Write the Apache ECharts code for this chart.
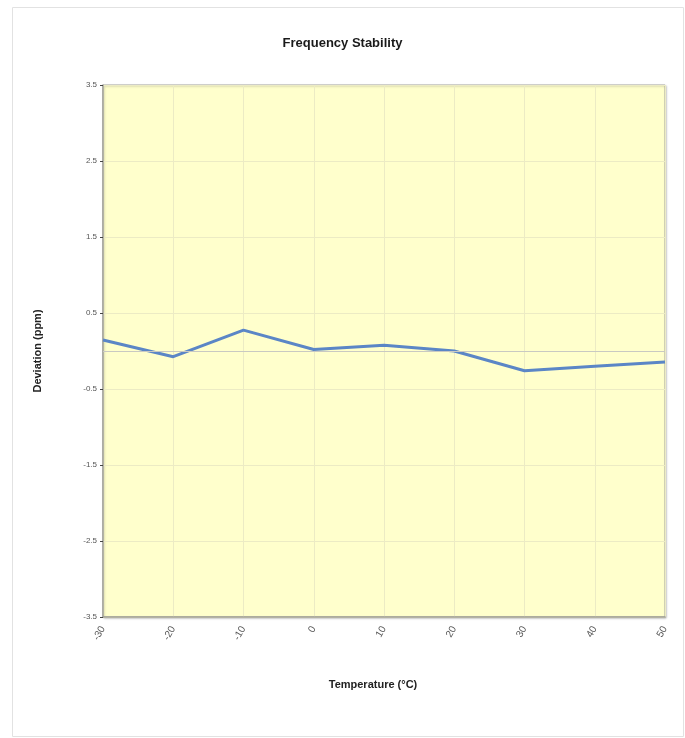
<!DOCTYPE html>
<html>
<head>
<meta charset="utf-8">
<script src="https://cdn.jsdelivr.net/npm/echarts@6/dist/echarts.min.js"></script>
<style>
html,body{margin:0;padding:0;background:#fff;}
#chart{width:685px;height:738px;}
</style>
</head>
<body>
<div id="chart"></div>
<script>
// Data
var temperatures = [-30, -20, -10, 0, 10, 20, 30, 40, 50];
var deviation = [0.145, -0.075, 0.275, 0.02, 0.075, 0.0, -0.26, -0.2, -0.145];
var yTicks = [-3.5, -2.5, -1.5, -0.5, 0.5, 1.5, 2.5, 3.5];
var titleText = 'Frequency Stability';
var xName = 'Temperature (°C)';
var yName = 'Deviation (ppm)';

var chart = echarts.init(document.getElementById('chart'), null, {renderer: 'canvas'});
var seriesData = temperatures.map(function (t, i) { return [t, deviation[i]]; });

chart.setOption({
  backgroundColor: '#ffffff',
  animation: false,
  title: {
    text: titleText,
    left: 'center',
    top: 32,
    textStyle: {fontFamily: 'Liberation Sans, Arial, sans-serif', fontSize: 13, fontWeight: 'bold', color: '#1a1a1a'}
  },
  graphic: [{
    type: 'rect',
    shape: {x: 12.5, y: 7.5, width: 671, height: 729},
    style: {fill: 'none', stroke: '#e2e2e2', lineWidth: 1},
    silent: true,
    z: -1
  }],
  grid: {
    left: 103, right: 20, top: 85, bottom: 121,
    show: true,
    backgroundColor: '#ffffcc',
    borderColor: '#a8a8a0',
    borderWidth: 1,
    shadowColor: 'rgba(0,0,0,0.25)',
    shadowBlur: 2,
    shadowOffsetX: 1,
    shadowOffsetY: 1
  },
  xAxis: {
    type: 'value',
    min: -30, max: 50, interval: 10,
    name: xName,
    nameLocation: 'middle',
    nameGap: 62,
    nameTextStyle: {fontFamily: 'Liberation Sans, Arial, sans-serif', fontSize: 11, fontWeight: 'bold', color: '#222', padding: [0, 22, 0, 0]},
    axisLine: {show: true, onZero: false, lineStyle: {color: '#a0a098', width: 1.5}},
    axisTick: {show: false},
    axisLabel: {rotate: 60, fontSize: 10, color: '#555', margin: 10, fontFamily: 'Liberation Sans, Arial, sans-serif'},
    splitLine: {show: true, lineStyle: {color: '#ecebc4', width: 1}}
  },
  yAxis: {
    type: 'value',
    min: yTicks[0], max: yTicks[yTicks.length - 1], interval: 1,
    name: yName,
    nameLocation: 'middle',
    nameGap: 60,
    nameTextStyle: {fontFamily: 'Liberation Sans, Arial, sans-serif', fontSize: 11, fontWeight: 'bold', color: '#222'},
    axisLine: {show: true, onZero: false, lineStyle: {color: '#a0a098', width: 1.5}},
    axisTick: {show: true, length: 3, lineStyle: {color: '#444'}},
    axisLabel: {fontSize: 8, color: '#555', margin: 6, fontFamily: 'Liberation Sans, Arial, sans-serif',
      formatter: function (v) { return (Math.round(v * 10) / 10).toFixed(1); }},
    splitLine: {show: true, lineStyle: {color: '#ecebc4', width: 1}}
  },
  series: [{
    type: 'line',
    data: seriesData,
    showSymbol: false,
    lineStyle: {color: '#5b86c6', width: 3},
    itemStyle: {color: '#5b86c6'},
    markLine: {
      silent: true,
      symbol: 'none',
      label: {show: false},
      lineStyle: {color: '#c9c9c2', width: 1, type: 'solid'},
      data: [{yAxis: 0}]
    },
    z: 3
  }]
});
</script>
</body>
</html>
